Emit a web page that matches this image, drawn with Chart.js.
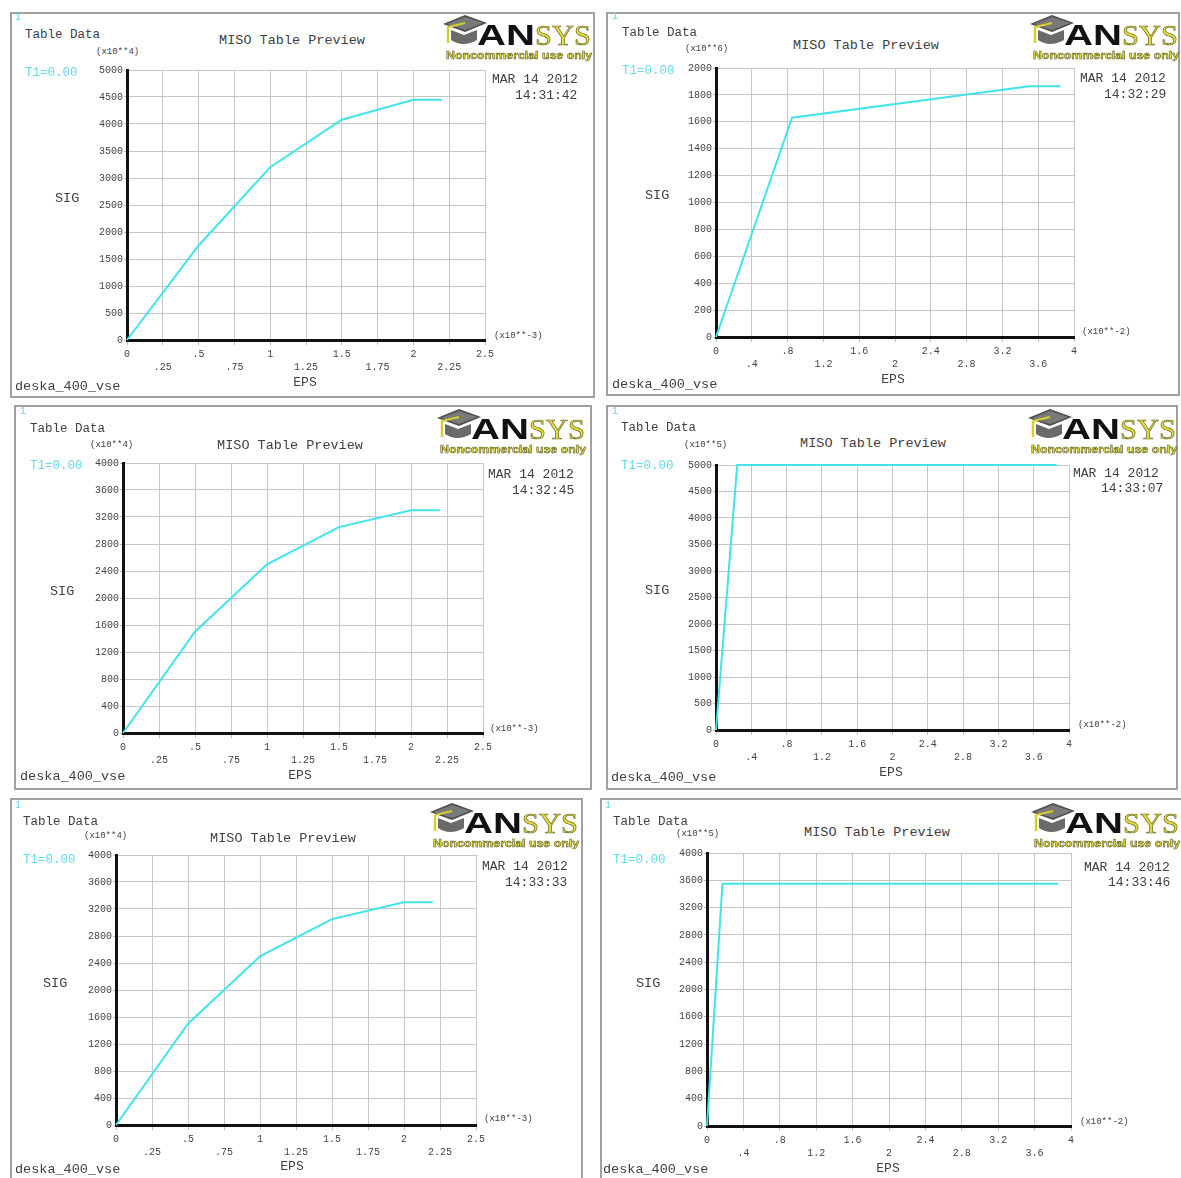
<!DOCTYPE html>
<html>
<head>
<meta charset="utf-8">
<script src="https://cdn.jsdelivr.net/npm/chart.js@4.4.1/dist/chart.umd.min.js"></script>
<style>
  html, body { margin:0; padding:0; background:#fff; }
  body { width:1181px; height:1178px; position:relative; overflow:hidden; font-family:"Liberation Mono", "DejaVu Sans Mono", monospace; }
  .frame { position:absolute; border:2px solid #a0a0a0; box-sizing:border-box; background:#fff; }
  canvas { position:absolute; }
  .t { position:absolute; white-space:pre; line-height:1; color:#404040; font-family:"Liberation Mono", monospace; }
  .logo { position:absolute; }
</style>
</head>
<body>
<script>
// ---------------- DATA ----------------
const xTicks25 = ['0','.25','.5','.75','1','1.25','1.5','1.75','2','2.25','2.5'];
const xTicks4  = ['0','.4','.8','1.2','1.6','2','2.4','2.8','3.2','3.6','4'];

const eps1 = [0, 0.5, 1.0, 1.5, 2.0, 2.2];
const sig1 = [0, 1750, 3200, 4080, 4450, 4450];

const eps2 = [0, 0.85, 3.5, 3.85];
const sig2 = [0, 1630, 1865, 1865];

const eps3 = [0, 0.5, 1.0, 1.5, 2.0, 2.2];
const sig3 = [0, 1500, 2500, 3050, 3300, 3300];

const eps4 = [0, 0.24, 3.86];
const sig4 = [0, 5000, 5000];

const eps5 = [0, 0.5, 1.0, 1.5, 2.0, 2.2];
const sig5 = [0, 1500, 2500, 3050, 3300, 3300];

const eps6 = [0, 0.17, 3.86];
const sig6 = [0, 3550, 3550];

const yMaxes = [5000, 2000, 4000, 5000, 4000, 4000];
const xMaxes = [2.5, 4, 2.5, 4, 2.5, 4];
const yExp = ['(x10**4)', '(x10**6)', '(x10**4)', '(x10**5)', '(x10**4)', '(x10**5)'];
const xExp = ['(x10**-3)', '(x10**-2)', '(x10**-3)', '(x10**-2)', '(x10**-3)', '(x10**-2)'];
const times = ['14:31:42', '14:32:29', '14:32:45', '14:33:07', '14:33:33', '14:33:46'];
const dateText = 'MAR 14 2012';

// ---------------- LAYOUT ----------------
const panels = [
  { frame:[10,12,595,398],  plot:[127,70,485,340], eps:eps1, sig:sig1, xTicks:xTicks25,
    txt:{one:[15,18], td:[25,35], ye:[96,52], miso:[292,41], t1:[25,73], sig:[55,199], eps:[305,382], xe:[494,336], dk:[15,387], mar:[492,79], tm:[515,95]}, logo:[443,12] },
  { frame:[606,12,1180,396], plot:[716,68,1074,337], eps:eps2, sig:sig2, xTicks:xTicks4,
    txt:{one:[612,17], td:[622,33], ye:[685,49], miso:[866,46], t1:[622,71], sig:[645,196], eps:[893,379], xe:[1082,332], dk:[612,385], mar:[1080,78], tm:[1104,94]}, logo:[1030,12] },
  { frame:[14,405,592,790], plot:[123,463,483,733], eps:eps3, sig:sig3, xTicks:xTicks25,
    txt:{one:[20,412], td:[30,429], ye:[90,445], miso:[290,446], t1:[30,466], sig:[50,592], eps:[300,775], xe:[490,729], dk:[20,777], mar:[488,474], tm:[512,490]}, logo:[437,406] },
  { frame:[606,405,1178,790], plot:[716,465,1069,730], eps:eps4, sig:sig4, xTicks:xTicks4,
    txt:{one:[612,412], td:[621,428], ye:[684,445], miso:[873,444], t1:[621,466], sig:[645,591], eps:[891,772], xe:[1078,725], dk:[611,778], mar:[1073,473], tm:[1101,488]}, logo:[1028,406] },
  { frame:[10,798,583,1182], plot:[116,855,476,1125], eps:eps5, sig:sig5, xTicks:xTicks25,
    txt:{one:[15,806], td:[23,822], ye:[84,836], miso:[283,839], t1:[23,860], sig:[43,984], eps:[292,1166], xe:[484,1119], dk:[15,1170], mar:[482,866], tm:[505,882]}, logo:[430,800] },
  { frame:[600,798,1183,1182], plot:[707,853,1071,1126], eps:eps6, sig:sig6, xTicks:xTicks4,
    txt:{one:[605,806], td:[613,822], ye:[676,834], miso:[877,833], t1:[613,860], sig:[636,984], eps:[888,1168], xe:[1080,1122], dk:[603,1170], mar:[1084,867], tm:[1108,882]}, logo:[1031,800] }
];

function addText(str, x, cy, size, opts = {}) {
  const d = document.createElement('div');
  d.className = 't';
  d.textContent = str;
  d.style.fontSize = size + 'px';
  d.style.left = x + 'px';
  d.style.top = cy + 'px';
  const tx = opts.align === 'center' ? '-50%' : (opts.align === 'right' ? '-100%' : '0');
  d.style.transform = `translate(${tx}, -50%)`;
  if (opts.color) d.style.color = opts.color;
  document.body.appendChild(d);
}

function addLogo(x, y) {
  const ns = 'http://www.w3.org/2000/svg';
  const wrap = document.createElement('div');
  wrap.className = 'logo';
  wrap.style.left = x + 'px';
  wrap.style.top = y + 'px';
  wrap.innerHTML = `
  <svg xmlns="${ns}" width="152" height="52" viewBox="0 0 152 52">
    <path d="M8,18 L8,28 Q20,36 34,28 L34,18 L21,23 Z" fill="#6a6a6a"/>
    <polygon points="0,12 22,3 44,11 22,20" fill="#505050"/>
    <polygon points="4,12 22,5 40,11 22,18" fill="#7a7a7a"/>
    <line x1="22" y1="11" x2="5" y2="15" stroke="#d8cf2a" stroke-width="2"/>
    <line x1="5" y1="15" x2="5" y2="31" stroke="#d8cf2a" stroke-width="2.5"/>
    <text x="34" y="33" font-family="Liberation Sans, Arial" font-weight="bold" font-size="30" fill="#111" textLength="58" lengthAdjust="spacingAndGlyphs">AN</text>
    <text x="92" y="33" font-family="Liberation Serif, Times" font-size="30" fill="#e4dc34" stroke="#6a6a30" stroke-width="0.7" textLength="56" lengthAdjust="spacingAndGlyphs">SYS</text>
    <text x="3" y="47" font-family="Liberation Sans, Arial" font-weight="bold" font-size="10.5" fill="#e6de2e" stroke="#4a4a20" stroke-width="0.45" textLength="146" lengthAdjust="spacingAndGlyphs">Noncommercial use only</text>
  </svg>`;
  document.body.appendChild(wrap);
}

const tickFont = { family: 'Liberation Mono', size: 10, lineHeight: 1.3 };
const cyan = '#3fe4ec';
const cyanText = '#62dcec';

panels.forEach((p, idx) => {
  // frame
  const f = document.createElement('div');
  f.className = 'frame';
  f.style.left = p.frame[0] + 'px';
  f.style.top = p.frame[1] + 'px';
  f.style.width = (p.frame[2] - p.frame[0]) + 'px';
  f.style.height = (p.frame[3] - p.frame[1]) + 'px';
  document.body.appendChild(f);

  // chart
  const padL = 50, padT = 10, padR = 16, axH = 40;
  const [pl, pt, pr, pb] = p.plot;
  const canvas = document.createElement('canvas');
  canvas.width = (pr - pl) + padL + padR;
  canvas.height = (pb - pt) + padT + axH;
  canvas.style.left = (pl - padL) + 'px';
  canvas.style.top = (pt - padT) + 'px';
  canvas.style.width = canvas.width + 'px';
  canvas.style.height = canvas.height + 'px';
  document.body.appendChild(canvas);

  const xMax = xMaxes[idx], yMax = yMaxes[idx];
  const labels = p.xTicks;
  new Chart(canvas.getContext('2d'), {
    type: 'scatter',
    data: {
      datasets: [{
        data: p.eps.map((x, i) => ({ x: x, y: p.sig[i] })),
        showLine: true,
        borderColor: cyan,
        borderWidth: 2,
        pointRadius: 0,
        tension: 0,
        fill: false,
        clip: 6
      }]
    },
    options: {
      responsive: false,
      animation: false,
      events: [],
      devicePixelRatio: 1,
      plugins: { legend: { display: false }, tooltip: { enabled: false } },
      layout: { padding: { left: 0, top: padT, right: padR, bottom: 0 } },
      scales: {
        x: {
          type: 'linear', min: 0, max: xMax,
          ticks: {
            stepSize: xMax / (labels.length - 1),
            autoSkip: false, maxRotation: 0, minRotation: 0,
            font: tickFont, color: '#444', padding: 3,
            callback: (v, i) => (i % 2 ? ['', labels[i]] : labels[i])
          },
          grid: { color: '#c6c6c6', lineWidth: 1, tickLength: 5, tickColor: '#c0c0c0' },
          border: { display: true, color: '#111', width: 3 },
          afterFit: (s) => { s.height = axH; }
        },
        y: {
          type: 'linear', min: 0, max: yMax,
          ticks: {
            stepSize: yMax / 10, autoSkip: false,
            font: tickFont, color: '#444', padding: 1,
            callback: (v) => String(Math.round(v))
          },
          grid: { color: '#c6c6c6', lineWidth: 1, tickLength: 3, tickColor: '#c0c0c0' },
          border: { display: true, color: '#111', width: 3 },
          afterFit: (s) => { s.width = padL; }
        }
      }
    }
  });

  const t = p.txt;
  addText('1', t.one[0], t.one[1], 10, { color: cyanText });
  addText('Table Data', t.td[0], t.td[1], 12.5);
  addText(yExp[idx], t.ye[0], t.ye[1], 9);
  addText('MISO Table Preview', t.miso[0], t.miso[1], 13.5, { align: 'center' });
  addText('T1=0.00', t.t1[0], t.t1[1], 12.5, { color: cyanText });
  addText('SIG', t.sig[0], t.sig[1], 13.5);
  addText('EPS', t.eps[0], t.eps[1], 13, { align: 'center' });
  addText(xExp[idx], t.xe[0], t.xe[1], 9);
  addText('deska_400_vse', t.dk[0], t.dk[1], 13.5);
  addText(dateText, t.mar[0], t.mar[1], 13);
  addText(times[idx], t.tm[0], t.tm[1], 13);
  addLogo(p.logo[0], p.logo[1]);
});
</script>
</body>
</html>
